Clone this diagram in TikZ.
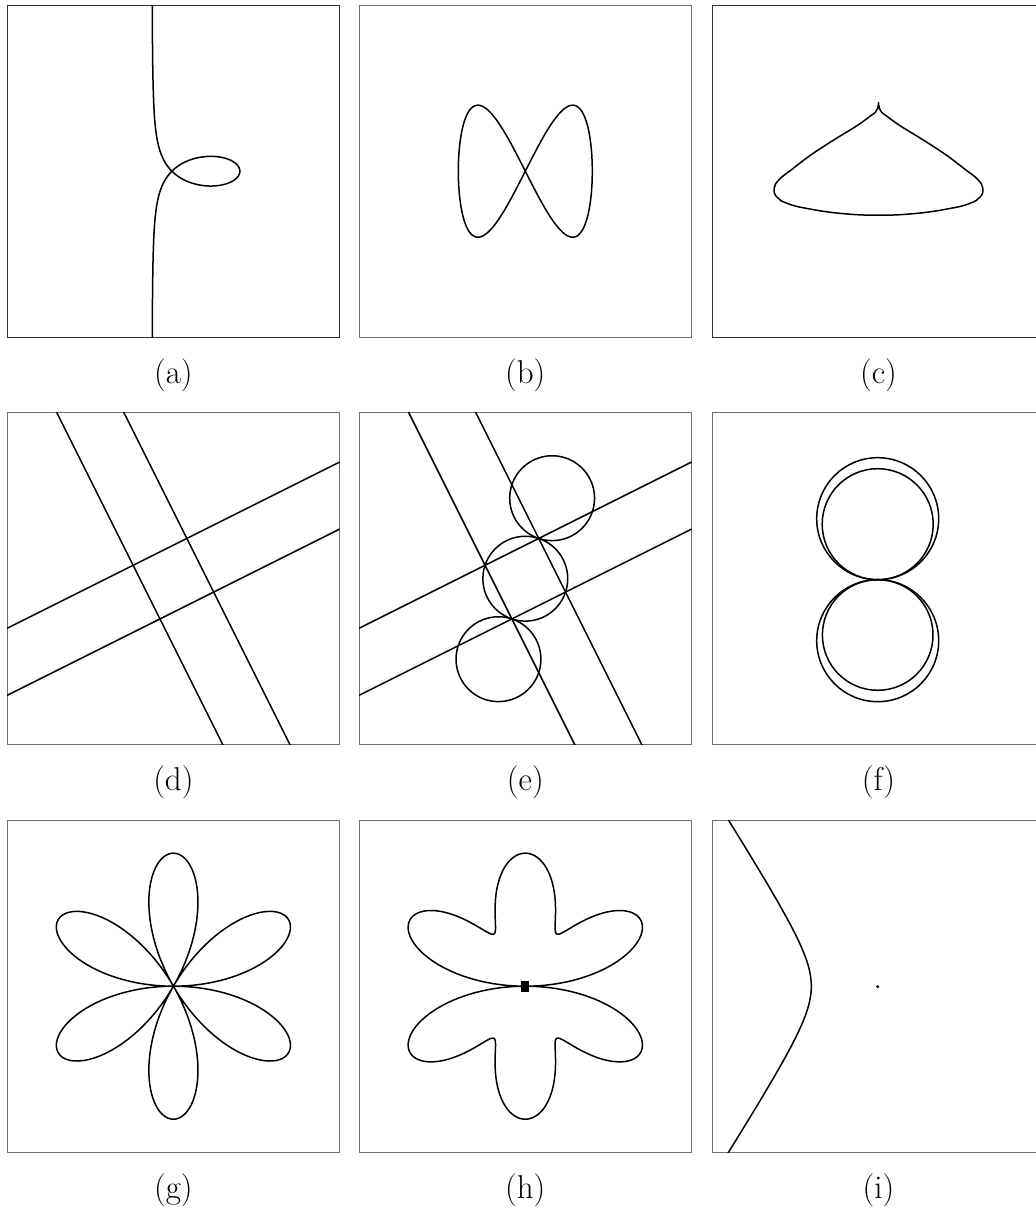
\documentclass[tikz,border=0pt]{standalone}
\usepackage{fontspec}
\usepackage{tikz}
\usetikzlibrary{positioning}
\definecolor{frameGrey}{HTML}{707070}
\definecolor{frameDark}{HTML}{303030}

\tikzset{
  panel/.style={draw=frameGrey, line width=1pt, minimum width=332.5pt,
                minimum height=332pt, inner sep=0pt, outer sep=0pt},
  plotline/.style={line width=1.5pt, line join=round, line cap=round},
  sublabel/.style={font=\fontsize{33}{40}\selectfont, inner sep=0pt},
  declare function={
    hr(\t)=10*sqrt(176.89*sin(3*\t)*sin(3*\t)+50*cos(3*\t)*cos(3*\t)*sin(\t)*sin(\t));
  }
}

\begin{document}
\begin{tikzpicture}[x=1pt,y=1pt]
\useasboundingbox (0,0) rectangle (1036,1211);

% the nine frames
\node[panel,draw=frameDark] (boxA) at (173.4,1039.8) {};
\node[panel] (boxB) at (525.3,1039.8) {};
\node[panel,draw=frameDark] (boxC) at (878.5,1039.8) {};
\node[panel] (boxD) at (173.4,632.3) {};
\node[panel] (boxE) at (525.3,632.3) {};
\node[panel] (boxF) at (878.5,632.3) {};
\node[panel] (boxG) at (173.4,224.8) {};
\node[panel] (boxH) at (525.3,224.8) {};
\node[panel] (boxI) at (878.5,224.8) {};

\node[sublabel, below=21pt of boxA] (labA) {(a)};
\node[sublabel, below=21pt of boxB] (labB) {(b)};
\node[sublabel, below=21pt of boxC] (labC) {(c)};
\node[sublabel, below=21pt of boxD] (labD) {(d)};
\node[sublabel, below=21pt of boxE] (labE) {(e)};
\node[sublabel, below=21pt of boxF] (labF) {(f)};
\node[sublabel, below=21pt of boxG] (labG) {(g)};
\node[sublabel, below=21pt of boxH] (labH) {(h)};
\node[sublabel, below=21pt of boxI] (labI) {(i)};

% (a) node with a loop
\begin{scope}[shift={(boxA.center)}]
\clip (-166.25,-166) rectangle (166.25,166);
\draw[plotline] plot[domain=-9:9, samples=600, variable=\t]
  ({-1.5+(20.06-\t*\t*20)/(\t*\t+0.295)}, {\t*(20.06-\t*\t*20)/(\t*\t+0.295)});
\end{scope}

% (b) figure eight
\begin{scope}[shift={(boxB.center)}]
\draw[plotline] plot[domain=0:360, samples=241, variable=\t]
  ({67*sin(\t)}, {66*sin(2*\t)});
\end{scope}

% (c) cusp
\begin{scope}[shift={(boxC.center)}]
\draw[plotline] plot[smooth, tension=0.75] coordinates {
  (0,68.5) (0.8,63) (3,59) (7,56) (20.3,46.3) (37,36) (53.7,25.5)
  (70.3,14.3) (87,1.5) (99,-8) (104.3,-17) (101.5,-26) (90.5,-32.5)
  (70.3,-37.5) (37,-42.3) (0,-44) (-37,-42.3) (-70.3,-37.5) (-90.5,-32.5)
  (-101.5,-26) (-104.3,-17) (-99,-8) (-87,1.5) (-70.3,14.3)
  (-53.7,25.5) (-37,36) (-20.3,46.3) (-7,56) (-3,59) (-0.8,63) (0,68.5)};
\end{scope}

% (d) two pairs of lines
\begin{scope}[shift={(boxD.center)}]
\clip (-166.25,-166) rectangle (166.25,166);
\draw[plotline] (-66.46,200) -- (133.54,-200);
\draw[plotline] (-133.54,200) -- (66.46,-200);
\draw[plotline] (-200,-133.54) -- (200,66.46);
\draw[plotline] (-200,-66.46) -- (200,133.54);
\end{scope}

% (e) lines and circles
\begin{scope}[shift={(boxE.center)}]
\clip (-166.25,-166) rectangle (166.25,166);
\draw[plotline] (-66.46,200) -- (133.54,-200);
\draw[plotline] (-133.54,200) -- (66.46,-200);
\draw[plotline] (-200,-133.54) -- (200,66.46);
\draw[plotline] (-200,-66.46) -- (200,133.54);
\draw[plotline] (0,0) circle[radius=42.43];
\draw[plotline] (26.83,80.5) circle[radius=42.43];
\draw[plotline] (-26.83,-80.5) circle[radius=42.43];
\end{scope}

% (f) two pairs of circles
\begin{scope}[shift={(boxF.center)}]
\draw[plotline] (-0.8,60) circle[radius=61];
\draw[plotline] (-0.8,54.5) circle[radius=55.5];
\draw[plotline] (-0.8,-62) circle[radius=61];
\draw[plotline] (-0.8,-56.3) circle[radius=55.3];
\end{scope}

% (g) rose
\begin{scope}[shift={(boxG.center)}]
\draw[plotline] plot[domain=0:360, samples=721, variable=\t]
  ({133*abs(sin(3*\t))*cos(\t)}, {133*abs(sin(3*\t))*sin(\t)});
\end{scope}

% (h) perturbed rose
\begin{scope}[shift={(boxH.center)}]
\draw[plotline] plot[domain=0:360, samples=721, variable=\t]
  ({hr(\t)*cos(\t)}, {hr(\t)*sin(\t)});
\fill (-4,-5.5) rectangle (4,5.5);
\end{scope}

% (i) branch and isolated point
\begin{scope}[shift={(boxI.center)}]
\clip (-166.25,-166) rectangle (166.25,166);
\draw[plotline] plot[domain=-175:175, samples=201, variable=\s]
  ({-40.7-26.5*sqrt(1+(\s/41.5)*(\s/41.5))}, {\s});
\fill (-0.8,-0.5) circle[radius=1.7];
\end{scope}
\end{tikzpicture}
\end{document}
